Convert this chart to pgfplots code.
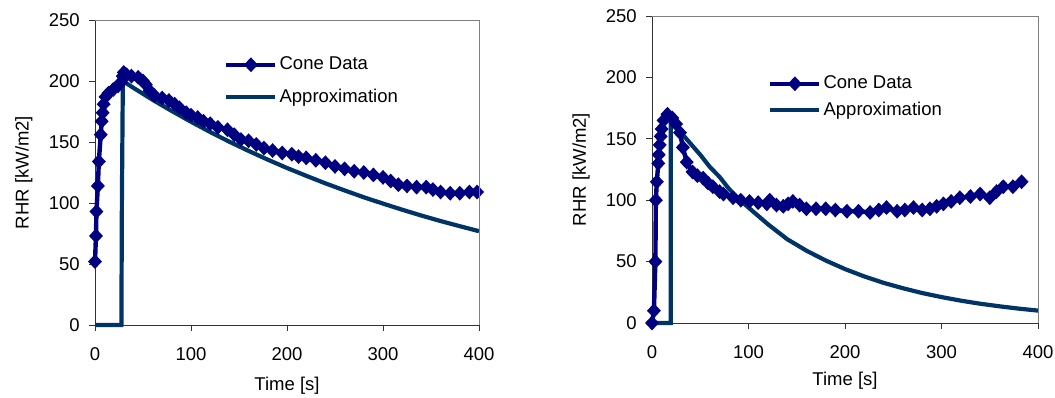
\documentclass[border=0pt]{standalone}
\usepackage{fontspec}
\setmainfont{Liberation Sans}
\usepackage{pgfplots}
\pgfplotsset{compat=1.18}
\definecolor{cone}{RGB}{0,0,128}
\definecolor{approx}{RGB}{0,51,102}
\newcommand\ff{\fontsize{18.5pt}{22pt}\selectfont}
\begin{document}
\ff
\begin{tikzpicture}
\useasboundingbox (0,0) rectangle (1055pt,398pt);
\pgfplotsset{
 myax/.style={scale only axis, axis lines=left,
   axis line style={-, black!80, line width=0.8pt},
   tick align=outside, major tick length=6pt,
   tick style={black!80, line width=0.8pt},
   xmin=0, xmax=400, ymin=0, ymax=250,
   xtick={0,100,200,300,400}, ytick={0,50,100,150,200,250},
   clip=false,
   /pgf/number format/assume math mode=true,
   tick label style={font=\ff},
   label style={font=\ff},
   xticklabel style={yshift=-10pt},
   yticklabel style={xshift=-3pt},
   xlabel={Time [s]}, ylabel={RHR [kW/m2]},
   legend cell align=left,
   legend style={draw=none, fill=none, inner sep=0pt, font=\ff, column sep=0pt,
     nodes={inner sep=2pt}},
   legend image code/.code={\draw[mark repeat=2, mark phase=2, line cap=butt, ##1] plot coordinates {(0pt,0pt) (24.5pt,0pt) (49pt,0pt)};},
   after end axis/.code={\draw[black!50, line width=0.8pt] (rel axis cs:0,1) -- (rel axis cs:1,1) -- (rel axis cs:1,0);},
 },
 cone/.style={color=cone, line width=4.4pt, mark=diamond*, mark size=4.2pt, mark options={solid, xscale=1.25}},
 apx/.style={color=approx, line width=4.2pt, no marks},
}
% ---------------- left panel
\begin{axis}[myax, at={(95pt,73pt)}, anchor=south west, width=384pt, height=305pt,
  xlabel style={at={(axis description cs:0.5,0)}, anchor=north, yshift=-45.5pt},
  ylabel style={at={(axis description cs:-0.146,0.5)}, anchor=south},
  legend style={at={(rel axis cs:0.336,0.8866)}, anchor=north west, row sep=12.6pt}]
\addplot[apx, forget plot] coordinates {
(0,0) (27.5,0) (28,100) (29,200) (40,194.4) (60,184.6) (80,175.4) (100,166.6)
(120,158.2) (140,150.2) (160,142.7) (180,135.5) (200,128.7) (220,122.3)
(240,116.1) (260,110.3) (280,104.7) (300,99.5) (320,94.5) (340,89.7)
(360,85.2) (380,81.0) (400,76.9)};
\addplot[cone] coordinates {
(0,52) (1,73) (1.5,93) (3,114) (4,134) (6,156) (7,167) (8,174) (9,181) (11,187)
(14,190) (19,193) (24,196) (27,199) (29,204) (30,207) (33,205) (38,204) (45,203)
(50,200) (53,197) (57,192) (62,188) (70,186) (77,184) (83,181) (88,178) (95,174)
(100,172) (107,170) (113,167) (120,165) (128,162) (138,160) (145,156) (152,152)
(160,151) (168,148) (176,145) (185,143) (195,141) (205,140) (212,138) (220,137)
(230,135) (240,133) (250,130) (260,128) (270,126) (280,125) (290,123) (300,121)
(308,118) (316,115) (325,114) (335,113) (345,113) (352,111) (360,109) (370,108)
(380,108) (390,109) (398,109)};
\addlegendentry{\raisebox{0pt}[13.2pt][0pt]{Cone Data}}
\addlegendimage{apx}
\addlegendentry{\raisebox{0pt}[13.2pt][0pt]{Approximation}}
\end{axis}
% ---------------- right panel
\begin{axis}[myax, at={(652pt,75pt)}, anchor=south west, width=386pt, height=307pt,
  xlabel style={at={(axis description cs:0.5,0)}, anchor=north, yshift=-42.5pt},
  ylabel style={at={(axis description cs:-0.145,0.5)}, anchor=south},
  legend style={at={(rel axis cs:0.3005,0.8124)}, anchor=north west, row sep=6.6pt}]
\addplot[apx, forget plot] coordinates {
(0,0) (19.5,0) (19.5,165) (30,155) (40,146) (50,137) (60,127) (70,119) (80,109)
(90,101) (100,94) (120,80.5) (140,68.3) (160,58.9) (180,50.9) (200,43.9) (220,37.9)
(240,32.7) (260,28.3) (280,24.4) (300,21.1) (320,18.2) (340,15.7) (360,13.6)
(380,11.7) (400,10.1)};
\addplot[cone] coordinates {
(0,0) (2,10) (3.5,50) (4,100) (5,115) (6.5,130) (7,137) (8,145) (9,152) (10,158)
(12,165) (16,170) (21,167) (25,162) (29,155) (32,143) (36,131) (42,123)
(47,120) (53,118) (58,114) (63,111) (70,107) (74,105) (84,102) (92,100) (101,99)
(110,98) (119,97) (122,100) (129,96) (136,95) (141,97) (146,99) (153,96) (160,93) (170,93)
(180,93) (190,92) (202,91) (214,91) (226,90) (235,92) (243,94) (254,91) (262,92)
(271,94) (280,92) (288,93) (295,95) (302,97) (310,99) (319,102) (330,103) (340,105)
(350,102) (357,107) (364,111) (374,111) (383,115)};
\addlegendentry{\raisebox{0pt}[13.2pt][0pt]{Cone Data}}
\addlegendimage{apx}
\addlegendentry{\raisebox{0pt}[13.2pt][0pt]{Approximation}}
\end{axis}
\end{tikzpicture}
\end{document}
